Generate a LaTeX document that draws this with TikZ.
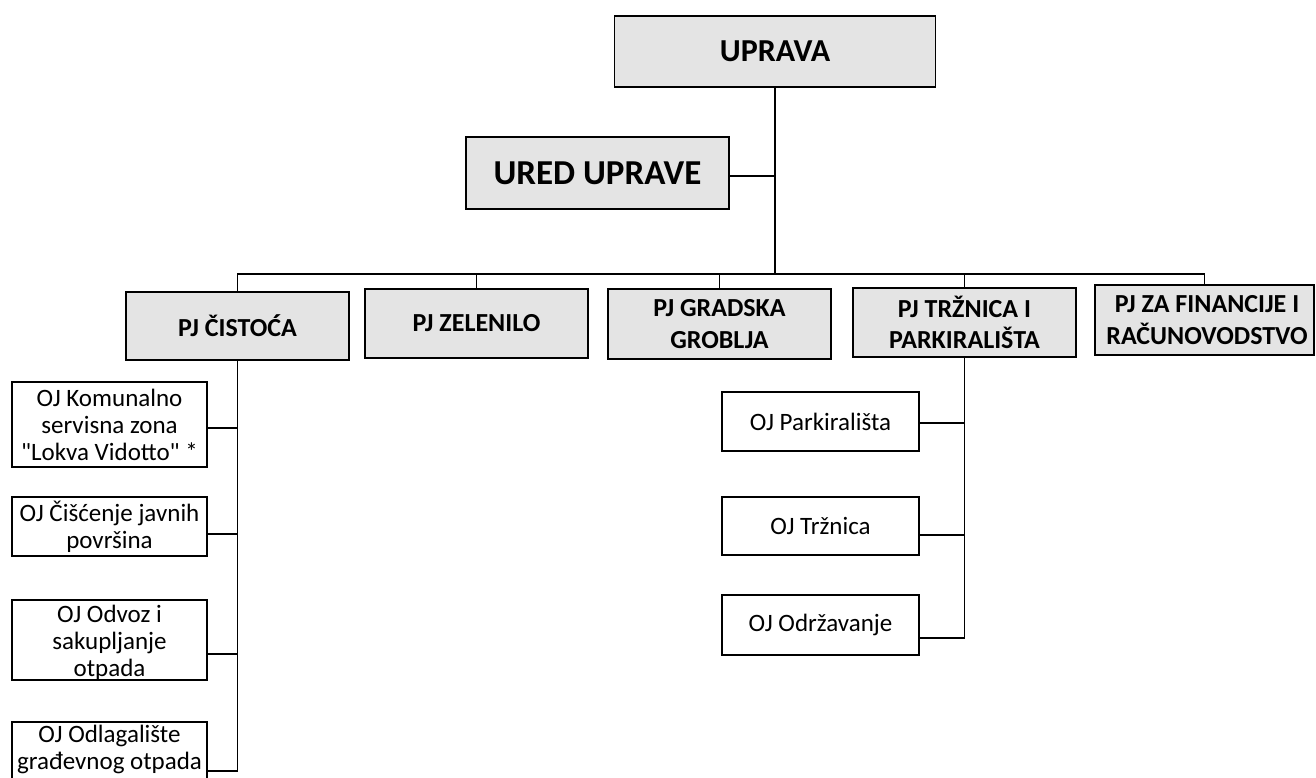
\documentclass[tikz,border=0pt]{standalone}
\usepackage{fontspec}
\setmainfont{Carlito}[Ligatures=TeXOff]
\definecolor{boxgray}{RGB}{228,228,228}
\begin{document}
\begin{tikzpicture}[x=1pt,y=-1pt,
  boxbase/.style={draw=black, line width=1.8pt, inner sep=0pt, outer sep=0pt},
  topbox/.style={boxbase, fill=boxgray},
  ojbox/.style={boxbase, fill=white},
  toptext/.style={font=\fontsize{32}{38}\selectfont\bfseries, align=center, inner sep=0pt},
  pjtext/.style={font=\fontsize{26}{31.5}\selectfont\bfseries, align=center, inner sep=0pt},
  ojtext/.style={font=\fontsize{25}{27}\selectfont, align=center, inner sep=0pt},
  conn/.style={line width=1.8pt, draw=black}]
\useasboundingbox (0,0) rectangle (1316,777);
% top
\node[topbox, minimum width=321pt, minimum height=71pt] (upr) at (775,51.5) {};
\node[toptext] (uprt) at (upr) {UPRAVA};
\node[topbox, minimum width=263pt, minimum height=72pt] (ured) at (597.5,173) {};
\node[toptext, font=\fontsize{35}{40}\selectfont\bfseries] (uredt) at (ured) {URED UPRAVE};
% PJ boxes
\node[topbox, minimum width=223pt, minimum height=68pt] (cis) at (237.5,326) {};
\node[pjtext] (cist) at (cis) {PJ ČISTOĆA};
\node[topbox, minimum width=223pt, minimum height=69pt] (zel) at (476.5,323.5) {};
\node[pjtext] (zelt) at (zel) {PJ ZELENILO};
\node[topbox, minimum width=223pt, minimum height=70pt] (gro) at (719.5,324) {};
\node[pjtext] (grot) at (gro) {PJ GRADSKA\\GROBLJA};
\node[topbox, minimum width=223pt, minimum height=69pt] (trz) at (964.5,322.5) {};
\node[pjtext] (trzt) at (trz) {PJ TRŽNICA I\\PARKIRALIŠTA};
\node[topbox, minimum width=219pt, minimum height=70pt] (fin) at (1204.5,320) {};
\node[pjtext] (fint) at (1207,320) {PJ ZA FINANCIJE I\\RAČUNOVODSTVO};
% bus
\coordinate (bus) at (775,274);
\draw[conn] (upr.south) -- (upr.south |- bus);
\draw[conn] ([yshift=-3pt]ured.east) -- ([yshift=-3pt]ured.east -| upr.south);
\draw[conn] (cis.north) -- (cis.north |- bus) -- (fin.north |- bus) -- (fin.north);
\draw[conn] (zel.north) -- (zel.north |- bus);
\draw[conn] (gro.north) -- (gro.north |- bus);
\draw[conn] (trz.north) -- (trz.north |- bus);
% left OJ column
\node[ojbox, minimum width=195pt, minimum height=85pt] (kom) at (109.5,424.5) {};
\node[ojtext] (komt) at (kom) {OJ Komunalno\\servisna zona\\"Lokva Vidotto" *};
\node[ojbox, minimum width=195pt, minimum height=59pt] (cij) at (109.5,526.5) {};
\node[ojtext] (cijt) at (cij) {OJ Čišćenje javnih\\površina};
\node[ojbox, minimum width=195pt, minimum height=80pt] (odv) at (109.5,640) {};
\node[ojtext] (odvt) at (109.5,643) {OJ Odvoz i\\sakupljanje\\otpada};
\node[ojbox, minimum width=195pt, minimum height=78pt] (odl) at (109.5,761) {};
\node[ojtext] (odlt) at (109.5,749) {OJ Odlagalište\\građevnog otpada};
\draw[conn] (cis.south) |- ([yshift=-10pt]odl.east);
\draw[conn] ([yshift=-3.5pt]kom.east) -- ([yshift=-3.5pt]kom.east -| cis.south);
\draw[conn] ([yshift=-7.5pt]cij.east) -- ([yshift=-7.5pt]cij.east -| cis.south);
\draw[conn] ([yshift=-14pt]odv.east) -- ([yshift=-14pt]odv.east -| cis.south);
% right OJ column
\node[ojbox, minimum width=197pt, minimum height=59pt] (park) at (820.5,421.5) {};
\node[ojtext] (parkt) at (park) {OJ Parkirališta};
\node[ojbox, minimum width=197pt, minimum height=58pt] (ojtr) at (820.5,526) {};
\node[ojtext] (ojtrt) at (ojtr) {OJ Tržnica};
\node[ojbox, minimum width=197pt, minimum height=60pt] (odr) at (820.5,625) {};
\node[ojtext] (odrt) at (odr) {OJ Održavanje};
\draw[conn] (trz.south) |- ([yshift=-13pt]odr.east);
\draw[conn] ([yshift=-1.5pt]park.east) -- ([yshift=-1.5pt]park.east -| trz.south);
\draw[conn] ([yshift=-9pt]ojtr.east) -- ([yshift=-9pt]ojtr.east -| trz.south);
\end{tikzpicture}
\end{document}
